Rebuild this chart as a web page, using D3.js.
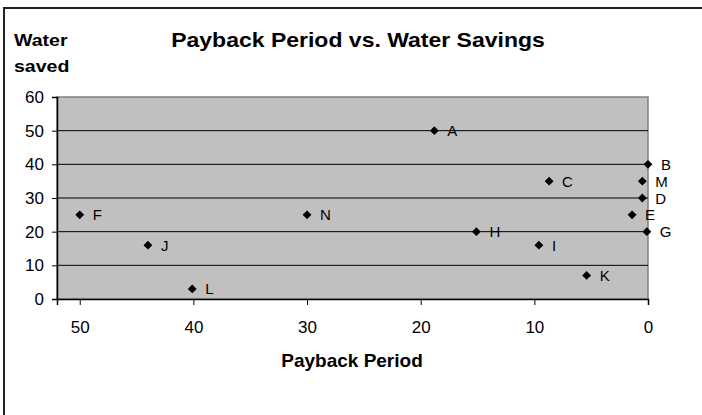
<!DOCTYPE html>
<html>
<head>
<meta charset="utf-8">
<script src="https://cdn.jsdelivr.net/npm/d3@7"></script>
<style>
  body { margin: 0; background: #fff; }
  svg { display: block; font-family: "Liberation Sans", Arial, sans-serif; }
</style>
</head>
<body>
<svg id="chart" width="702" height="415"></svg>
<script>
"use strict";

// projects
const names = ["A", "B", "C", "D", "E", "F", "G", "H", "I", "J", "K", "L", "M", "N"];
const payback = [18.8, 0, 8.7, 0.5, 1.4, 50, 0.1, 15.1, 9.6, 44, 5.4, 40.1, 0.5, 30];
const saved = [50, 40, 35, 30, 25, 25, 20, 20, 16, 16, 7, 3, 35, 25];
const xTicks = [50, 40, 30, 20, 10, 0];
const yTicks = [0, 10, 20, 30, 40, 50, 60];

(() => {
	const svg = d3.select("#chart");

	const plot = {left: 57, right: 648, top: 97, bottom: 299};

	// x runs backwards, 0 sits on the right edge
	const x = d3.scaleLinear().domain([52, 0]).range([plot.left, plot.right]);
	const y = d3.scaleLinear().domain([0, 60]).range([plot.bottom, plot.top]);

	// outer frame, cut off at right and bottom like the original
	svg.append("rect")
		.attr("x", 4).attr("y", 8)
		.attr("width", 720).attr("height", 440)
		.attr("fill", "none")
		.attr("stroke", "#222")
		.attr("stroke-width", 2);

	svg.append("rect")
		.attr("x", plot.left).attr("y", plot.top)
		.attr("width", plot.right - plot.left)
		.attr("height", plot.bottom - plot.top)
		.attr("fill", "#c0c0c0")
		.attr("stroke", "#808080")
		.attr("stroke-width", 1.5);

	// gridlines
	svg.append("g")
		.selectAll("line")
		.data(yTicks.filter(d => d > 0 && d < 60)).enter()
		.append("line")
		.attr("x1", plot.left).attr("x2", plot.right)
		.attr("y1", d => y(d)).attr("y2", d => y(d))
		.attr("stroke", "#000")
		.attr("stroke-width", 1);

	const yAxis = svg.append("g")
		.attr("transform", `translate(${plot.left},0)`)
		.call(d3.axisLeft(y).tickValues(yTicks).tickSize(5).tickPadding(8));
	const xAxis = svg.append("g")
		.attr("transform", `translate(0,${plot.bottom})`)
		.call(d3.axisBottom(x).tickValues(xTicks).tickSize(6).tickPadding(16));

	[yAxis, xAxis].forEach(g => {
		g.select(".domain").attr("stroke", "#000").attr("stroke-width", 1.5);
		g.selectAll(".tick line").attr("stroke", "#000");
		g.selectAll("text")
			.attr("font-size", 17)
			.attr("font-family", "Liberation Sans, Arial, sans-serif")
			.attr("fill", "#000");
	});

	// diamonds
	const pts = names.map((n, i) => ({name: n, px: payback[i], ws: saved[i]}));
	svg.append("g")
		.selectAll("path")
		.data(pts).enter()
		.append("path")
		.attr("d", d3.symbol(d3.symbolDiamond2, 50))
		.attr("transform", d => `translate(${x(d.px)},${y(d.ws)})`)
		.attr("fill", "#000");

	svg.append("g")
		.selectAll("text")
		.data(pts).enter()
		.append("text")
		.attr("x", d => x(d.px) + 13)
		.attr("y", d => y(d.ws) + 5.5)
		.attr("font-size", 15)
		.attr("fill", "#000")
		.text(d => d.name);

	// the original text is a bit stretched sideways
	svg.append("text")
		.attr("transform", "translate(358,46.5) scale(1.15,1)")
		.attr("text-anchor", "middle")
		.attr("font-size", 20)
		.attr("font-weight", "bold")
		.text("Payback Period vs. Water Savings");

	svg.append("text")
		.attr("transform", "translate(14,46) scale(1.15,1)")
		.attr("font-size", 17)
		.attr("font-weight", "bold")
		.text("Water");
	svg.append("text")
		.attr("transform", "translate(14,72) scale(1.15,1)")
		.attr("font-size", 17)
		.attr("font-weight", "bold")
		.text("saved");

	svg.append("text")
		.attr("x", 352).attr("y", 366.5)
		.attr("text-anchor", "middle")
		.attr("font-size", 19)
		.attr("font-weight", "bold")
		.text("Payback Period");
})();
</script>
</body>
</html>
